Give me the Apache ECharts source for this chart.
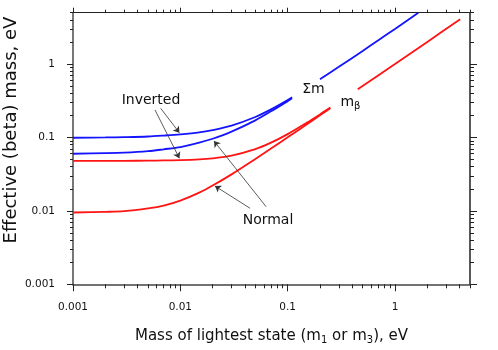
<!DOCTYPE html>
<html>
<head>
<meta charset="utf-8">
<script src="https://cdn.jsdelivr.net/npm/echarts@6/dist/echarts.min.js"></script>
<style>
  html, body { margin: 0; padding: 0; background: #fff; }
  #chart { width: 498px; height: 350px; }
</style>
</head>
<body>
<div id="chart"></div>
<script>
// lightest neutrino mass (eV) where the curves were read, left of the label gaps
const massLeft = [0.001, 0.002, 0.003, 0.005, 0.007, 0.01, 0.015, 0.02, 0.03, 0.05, 0.07, 0.1, 0.11];
const sumInverted = [0.099, 0.100, 0.101, 0.103, 0.106, 0.110, 0.117, 0.126, 0.145, 0.190, 0.241, 0.323, 0.353];
const sumNormal = [0.060, 0.061, 0.062, 0.065, 0.069, 0.074, 0.085, 0.096, 0.120, 0.171, 0.227, 0.312, 0.341];

const massBeta = [0.001, 0.002, 0.003, 0.005, 0.007, 0.01, 0.015, 0.02, 0.03, 0.05, 0.07, 0.1, 0.15, 0.2, 0.25];
const betaInverted = [0.048, 0.048, 0.0481, 0.0483, 0.0486, 0.049, 0.0502, 0.052, 0.0566, 0.0694, 0.085, 0.111, 0.158, 0.206, 0.255];
const betaNormal = [0.0095, 0.0097, 0.0099, 0.0108, 0.0118, 0.0138, 0.0177, 0.0221, 0.0314, 0.0509, 0.0706, 0.1004, 0.1503, 0.2002, 0.2502];

// right of the gaps both orderings coincide
const massSumRight = [0.2, 0.3, 0.5, 0.7, 1, 1.65];
const sumRight = [0.62, 0.915, 1.51, 2.11, 3.01, 4.98];
const massBetaRight = [0.45, 1, 2, 4.05];
const betaRight = [0.455, 1.0, 2.0, 4.08];

// axes (both log, same range)
const axisMin = 0.001, axisMax = 5;
const majorTicks = [0.001, 0.01, 0.1, 1];
const majorLabels = ['0.001', '0.01', '0.1', '1'];
const minorTicks = [0.002, 0.003, 0.004, 0.005, 0.006, 0.007, 0.008, 0.009,
  0.02, 0.03, 0.04, 0.05, 0.06, 0.07, 0.08, 0.09,
  0.2, 0.3, 0.4, 0.5, 0.6, 0.7, 0.8, 0.9,
  2, 3, 4, 5];

// annotations: arrow tail -> head, in eV
const arrowFrom = [[0.00656, 0.249], [0.00581, 0.2366], [0.063, 0.0114], [0.0447, 0.01084]];
const arrowTo = [[0.0098, 0.116], [0.0098, 0.052], [0.0206, 0.0893], [0.021, 0.0218]];
const noteNames = ['Inverted', 'Normal', 'Σm', 'mβ'];
const notePos = [[0.00533, 0.3236], [0.0656, 0.0075], [0.174, 0.452], [0.385, 0.305]];

const FONT = 'DejaVu Sans';
const BLUE = '#1414ff';
const RED = '#ff1414';

const lg = Math.log10;
const toXY = (xs, ys) => xs.map((x, i) => [lg(x), lg(ys[i])]);
const tickLabel = v => {
  const i = majorTicks.findIndex(t => Math.abs(lg(t) - v) < 1e-6);
  return i < 0 ? '' : majorLabels[i];
};

function axisPair(pos, withLabels, lineColor, lineWidth, majorLen, minorLen, extra) {
  const base = {
    type: 'value', position: pos, min: lg(axisMin), max: lg(axisMax),
    splitLine: { show: false }
  };
  const major = Object.assign({}, base, {
    axisLine: { show: true, onZero: false, lineStyle: { color: lineColor, width: lineWidth } },
    axisTick: { show: true, length: majorLen, customValues: majorTicks.map(lg), lineStyle: { color: '#222', width: 1 } },
    axisLabel: {
      show: withLabels, customValues: majorTicks.map(lg), formatter: tickLabel,
      fontFamily: FONT, fontSize: 10.5, color: '#111', margin: pos === 'left' ? 18 : 17
    }
  }, extra || {});
  const minor = Object.assign({}, base, {
    axisLine: { show: false, onZero: false },
    axisTick: { show: true, length: minorLen, customValues: minorTicks.map(lg), lineStyle: { color: '#222', width: 1 } },
    axisLabel: { show: false }
  });
  return [major, minor];
}

const xAxes = axisPair('bottom', true, '#444', 1.5, 7, 4, {
  name: 'Mass of lightest state (m{s|1} or m{s|3}), eV',
  nameLocation: 'middle', nameGap: 42, nameMoveOverlap: false,
  nameTextStyle: {
    fontFamily: FONT, fontSize: 15, color: '#111',
    rich: { s: { fontFamily: FONT, fontSize: 10, color: '#111', padding: [9, 0, 0, 0] } }
  }
}).concat(axisPair('top', false, '#222', 1, 5, 3));

const yAxes = axisPair('left', true, '#777', 2, 6, 3, {
  name: 'Effective (beta) mass, eV',
  nameLocation: 'middle', nameGap: 53, nameMoveOverlap: false,
  nameTextStyle: { fontFamily: FONT, fontSize: 18, color: '#111', padding: [0, 0, 0, 37] }
}).concat(axisPair('right', false, '#222', 1.5, 7, 4));

function curve(xs, ys, color) {
  return {
    type: 'line', data: toXY(xs, ys), smooth: 0.3, symbol: 'none',
    xAxisIndex: 0, yAxisIndex: 0,
    lineStyle: { color: color, width: 1.8 }, itemStyle: { color: color }
  };
}

const series = [
  curve(massLeft, sumInverted, BLUE),
  curve(massLeft, sumNormal, BLUE),
  curve(massSumRight, sumRight, BLUE),
  curve(massBeta, betaInverted, RED),
  curve(massBeta, betaNormal, RED),
  curve(massBetaRight, betaRight, RED),
  {
    type: 'line', data: [], xAxisIndex: 0, yAxisIndex: 0, symbol: 'none',
    markLine: {
      silent: true, animation: false,
      symbol: ['none', 'arrow'], symbolSize: 6,
      lineStyle: { color: '#333', width: 0.8, type: 'solid' },
      label: { show: false },
      data: arrowFrom.map((f, i) => [
        { coord: [lg(f[0]), lg(f[1])] },
        { coord: [lg(arrowTo[i][0]), lg(arrowTo[i][1])] }
      ])
    },
    markPoint: {
      silent: true, animation: false,
      symbol: 'circle', symbolSize: 1, itemStyle: { color: 'rgba(0,0,0,0)' },
      label: {
        show: true, position: 'inside', fontFamily: FONT, fontSize: 14, color: '#111',
        formatter: p => p.name === 'mβ' ? '{m|m}{b|β}' : p.name,
        rich: {
          m: { fontFamily: FONT, fontSize: 14, color: '#111' },
          b: { fontFamily: FONT, fontSize: 10, color: '#111', padding: [9, 0, 0, 0] }
        }
      },
      data: noteNames.map((n, i) => ({ name: n, coord: [lg(notePos[i][0]), lg(notePos[i][1])] }))
    }
  }
];

const chart = echarts.init(document.getElementById('chart'), null, { renderer: 'canvas' });
chart.setOption({
  animation: false,
  backgroundColor: '#fff',
  grid: { left: 73, right: 28, top: 12.7, bottom: 65.7, containLabel: false, outerBoundsMode: 'none' },
  xAxis: xAxes,
  yAxis: yAxes,
  series: series
});
</script>
</body>
</html>
